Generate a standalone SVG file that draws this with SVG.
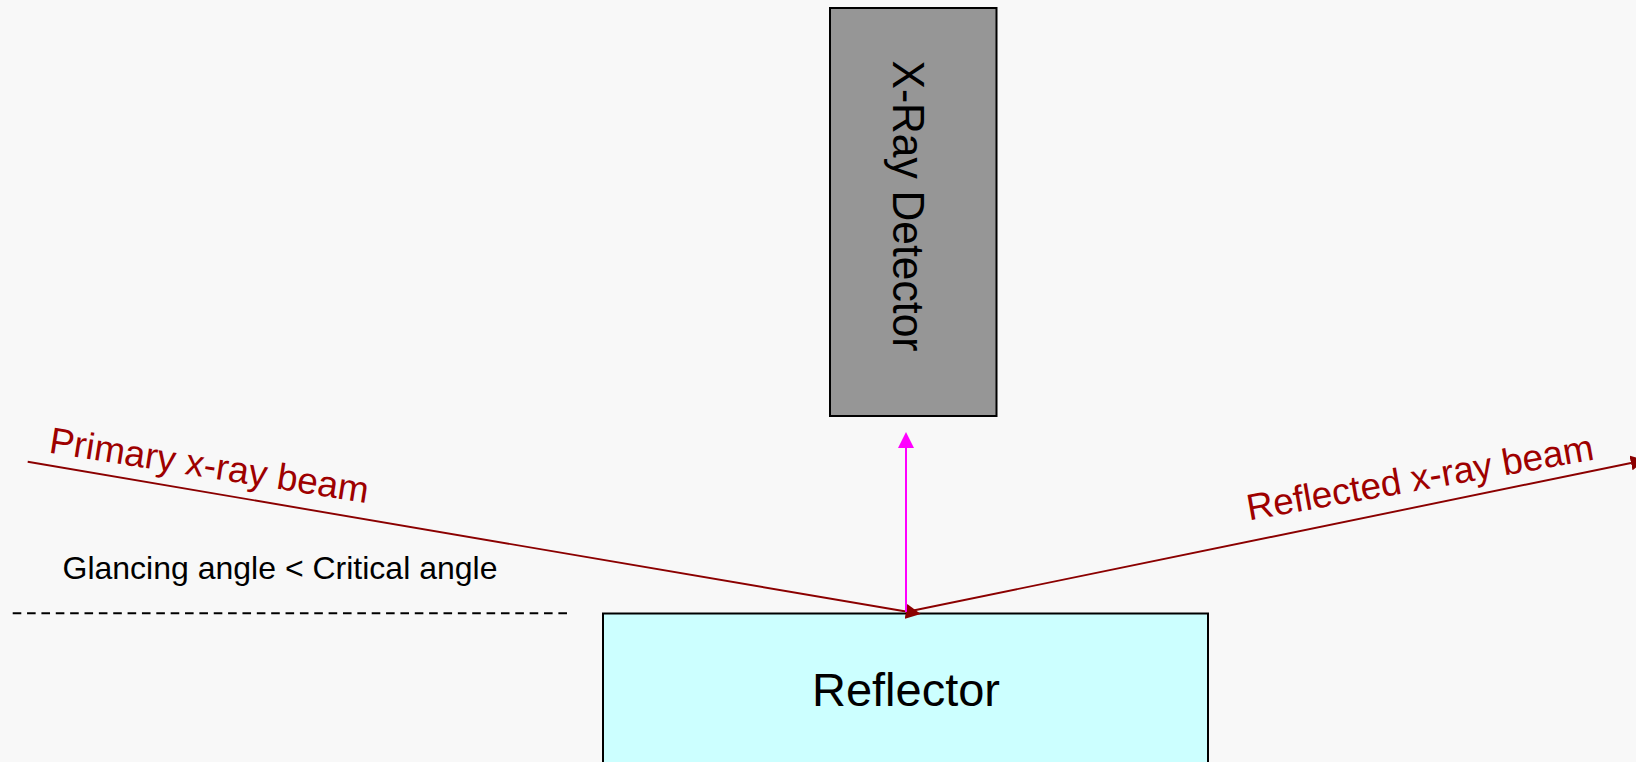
<svg xmlns="http://www.w3.org/2000/svg" width="1636" height="762" viewBox="0 0 1636 762">
  <style>
    .lbl { font-family: "Liberation Sans", Arial, Helvetica, sans-serif; }
    .beam { stroke: #8b0000; stroke-width: 1.9; fill: none; }
    .beam-text { fill: #9e0000; font-size: 37px; }
    .emit { stroke: #ff00ff; stroke-width: 2; fill: none; }
    .box { stroke: #000; stroke-width: 2; }
  </style>
  <defs>
    <marker id="arrow-red" markerUnits="userSpaceOnUse" viewBox="0 0 15 15" markerWidth="15" markerHeight="15" refX="0" refY="7.5" orient="auto">
      <path d="M0,0 L15,7.5 L0,15 z" fill="#8b0000"/>
    </marker>
    <marker id="arrow-magenta" markerUnits="userSpaceOnUse" viewBox="0 0 16 16" markerWidth="16" markerHeight="16" refX="0" refY="8" orient="auto">
      <path d="M0,0 L16,8 L0,16 z" fill="#ff00ff"/>
    </marker>
  </defs>

  <rect x="0" y="0" width="1636" height="762" fill="#f8f8f8"/>

  <!-- detector -->
  <g id="detector">
    <rect class="box" x="830" y="8" width="166.5" height="408" fill="#969696"/>
    <text class="lbl" x="0" y="0" font-size="44" text-anchor="middle" fill="#000" textLength="291" lengthAdjust="spacingAndGlyphs" transform="translate(893,206) rotate(90)">X-Ray Detector</text>
  </g>

  <!-- reflector -->
  <g id="reflector">
    <rect class="box" x="603" y="613.5" width="605" height="200" fill="#ccffff"/>
    <text class="lbl" x="906" y="706" font-size="47" text-anchor="middle" fill="#000">Reflector</text>
  </g>

  <!-- surface reference line and angle note -->
  <g id="surface-note">
    <line x1="12.7" y1="613.3" x2="567" y2="613.3" stroke="#000" stroke-width="2" stroke-dasharray="8.6 5.76"/>
    <text class="lbl" x="62.5" y="579" font-size="32" fill="#000">Glancing angle &lt; Critical angle</text>
  </g>

  <!-- beams -->
  <g id="connectors">
    <line class="beam" x1="27.7" y1="461.7" x2="906" y2="611.5" marker-end="url(#arrow-red)"/>
    <line class="beam" x1="906" y1="612" x2="1631" y2="463" marker-end="url(#arrow-red)"/>
    <line class="emit" x1="906" y1="612" x2="906" y2="448" marker-end="url(#arrow-magenta)"/>
  </g>

  <!-- beam labels -->
  <g id="beam-labels">
    <text class="lbl beam-text" x="0" y="0" transform="translate(48,452.5) rotate(9)">Primary x-ray beam</text>
    <text class="lbl beam-text" x="0" y="0" transform="translate(1249,520.5) rotate(-10)">Reflected x-ray beam</text>
  </g>
</svg>
